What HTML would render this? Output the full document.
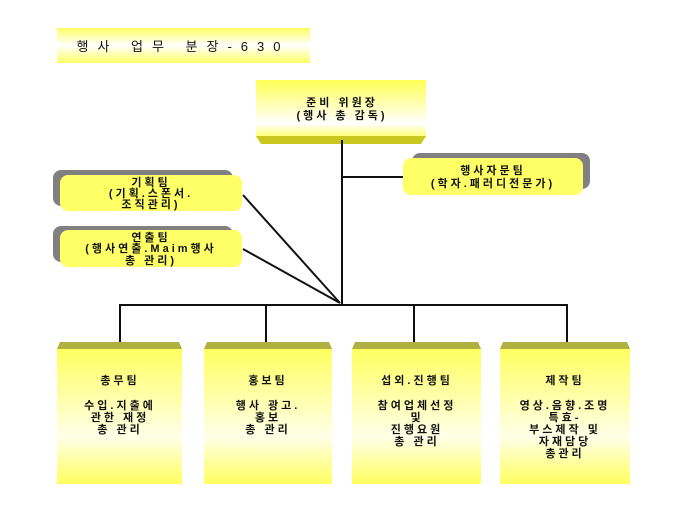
<!DOCTYPE html>
<html><head><meta charset="utf-8"><style>
html,body{margin:0;padding:0;background:#fff;}
svg text{font-family:"Liberation Sans","Noto Sans CJK KR",sans-serif;font-weight:bold;font-size:11px;fill:#111;text-anchor:middle;letter-spacing:3px;}
</style></head><body>
<svg width="680" height="510" viewBox="0 0 680 510" xmlns="http://www.w3.org/2000/svg">
<defs>
<linearGradient id="tg" x1="0" y1="0" x2="0" y2="1">
<stop offset="0" stop-color="#ffff66"/><stop offset="0.5" stop-color="#ffffff"/><stop offset="1" stop-color="#ffff66"/>
</linearGradient>
<linearGradient id="cg" x1="0" y1="0" x2="0" y2="1">
<stop offset="0" stop-color="#ffff55"/><stop offset="0.75" stop-color="#ffffff"/><stop offset="1" stop-color="#ffff66"/>
</linearGradient>
<linearGradient id="bg" x1="0" y1="0" x2="0" y2="1">
<stop offset="0" stop-color="#ffff60"/><stop offset="0.65" stop-color="#ffffe8"/><stop offset="1" stop-color="#ffff60"/>
</linearGradient>
</defs>
<rect x="57" y="28" width="253" height="35" fill="url(#tg)"/>
<text x="183" y="51" style="font-weight:normal;font-size:13px;letter-spacing:9px">행사 업무 분장-630</text>
<rect x="256" y="80" width="170" height="58" fill="url(#cg)"/>
<polygon points="256,136 426,136 421,144 261,144" fill="#c8c820"/>
<text x="342" y="106">준비 위원장</text>
<text x="342" y="119">(행사 총 감독)</text>
<g stroke="#111" stroke-width="2" fill="none">
<line x1="342" y1="140" x2="342" y2="305"/>
<line x1="342" y1="177" x2="405" y2="177"/>
<line x1="243" y1="195" x2="340" y2="303"/>
<line x1="243" y1="249" x2="340" y2="303"/>
<line x1="119" y1="305" x2="568" y2="305"/>
<line x1="120" y1="305" x2="120" y2="346"/>
<line x1="266" y1="305" x2="266" y2="346"/>
<line x1="414" y1="305" x2="414" y2="346"/>
<line x1="567" y1="305" x2="567" y2="346"/>
</g>
<rect x="412" y="153" width="178" height="36" rx="8" fill="#808080"/>
<rect x="403" y="158" width="180" height="37" rx="8" fill="#ffff66"/>
<text x="493" y="174">행사자문팀</text>
<text x="493" y="187">(학자.패러디전문가)</text>
<rect x="53" y="170" width="180" height="36" rx="8" fill="#808080"/>
<rect x="60" y="175" width="182" height="36" rx="8" fill="#ffff66"/>
<text x="151" y="186">기획팀</text>
<text x="151" y="197">(기획.스폰서.</text>
<text x="151" y="208">조직관리)</text>
<rect x="53" y="226" width="180" height="36" rx="8" fill="#808080"/>
<rect x="60" y="230" width="182" height="37" rx="8" fill="#ffff66"/>
<text x="151" y="241">연출팀</text>
<text x="151" y="252">(행사연출.Maim행사</text>
<text x="151" y="264">총 관리)</text>
<g>
<polygon points="60,342 179,342 182,349 57,349" fill="#b0b040"/>
<rect x="57" y="349" width="125" height="135" fill="url(#bg)"/>
<text x="120" y="384">총무팀</text>
<text x="120" y="409">수입.지출에</text>
<text x="120" y="421">관한 재정</text>
<text x="120" y="433">총 관리</text>
<polygon points="207,342 329,342 332,349 204,349" fill="#b0b040"/>
<rect x="204" y="349" width="128" height="135" fill="url(#bg)"/>
<text x="268" y="384">홍보팀</text>
<text x="268" y="409">행사 광고.</text>
<text x="268" y="421">홍보</text>
<text x="268" y="433">총 관리</text>
<polygon points="355,342 478,342 481,349 352,349" fill="#b0b040"/>
<rect x="352" y="349" width="129" height="135" fill="url(#bg)"/>
<text x="417" y="384">섭외.진행팀</text>
<text x="417" y="409">참여업체선정</text>
<text x="417" y="421">및</text>
<text x="417" y="433">진행요원</text>
<text x="417" y="445">총 관리</text>
<polygon points="503,342 627,342 630,349 500,349" fill="#b0b040"/>
<rect x="500" y="349" width="130" height="135" fill="url(#bg)"/>
<text x="565" y="384">제작팀</text>
<text x="565" y="409">영상.음향.조명</text>
<text x="565" y="421">특효-</text>
<text x="565" y="433">부스제작 및</text>
<text x="565" y="445">자재담당</text>
<text x="565" y="457">총관리</text>
</g>
</svg>
</body></html>
